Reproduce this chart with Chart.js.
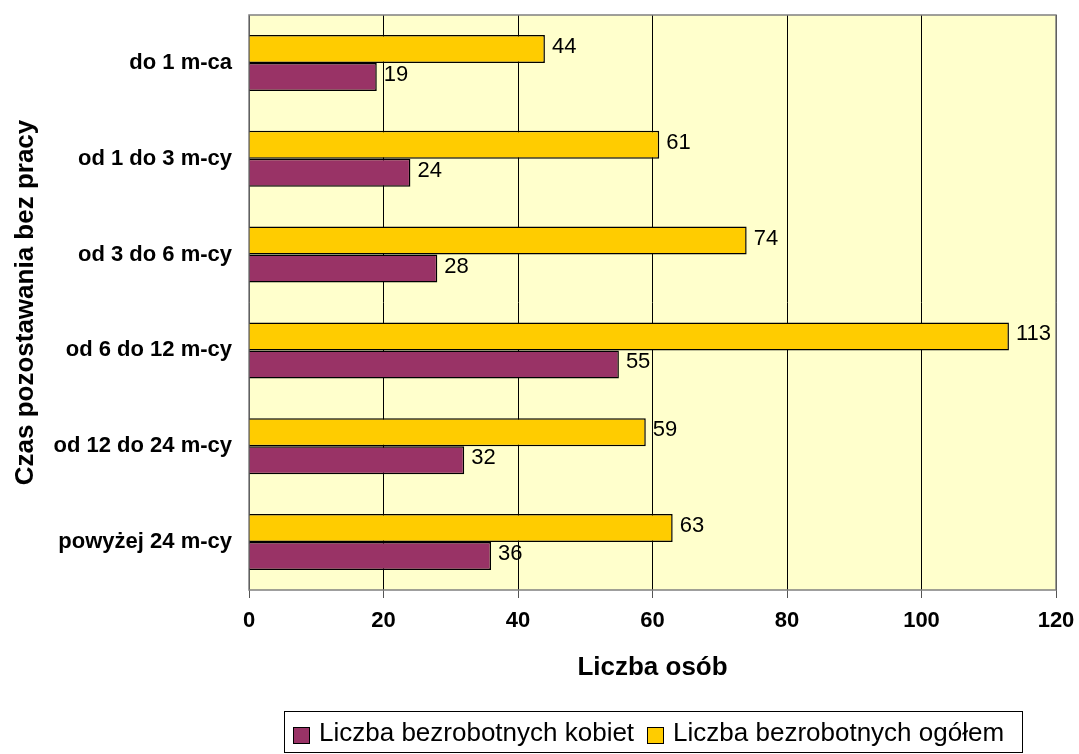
<!DOCTYPE html>
<html lang="pl">
<head>
<meta charset="utf-8">
<script src="https://cdn.jsdelivr.net/npm/chart.js"></script>
<style>
  html, body { margin: 0; padding: 0; background: #fff; }
  #wrap { position: relative; width: 1079px; height: 754px; }
  #legend {
    position: absolute; left: 284px; top: 711px; width: 737px; height: 40px;
    border: 1px solid #000; box-sizing: content-box;
    display: flex; align-items: center;
    font: 26px "Liberation Sans", Arial, sans-serif; color: #000;
  }
  .lg-item { display: flex; align-items: center; }
  .lg-box { width: 15px; height: 15px; border: 1px solid #000; margin: 6px 9px 0 8px; }
  .lg-item + .lg-item .lg-box { margin-left: 13px; }
</style>
</head>
<body>
<div id="wrap">
  <canvas id="unemployment-chart" width="1079" height="754"></canvas>
  <div id="legend"></div>
</div>
<script>
/* ===== BEZROBOCIE WG CZASU POZOSTAWANIA BEZ PRACY ===== */

const categories = ['do 1 m-ca', 'od 1 do 3 m-cy', 'od 3 do 6 m-cy', 'od 6 do 12 m-cy', 'od 12 do 24 m-cy', 'powyżej 24 m-cy'];
const totalUnemployed = [44, 61, 74, 113, 59, 63];
const womenUnemployed = [19, 24, 28, 55, 32, 36];
const xTicks = [0, 20, 40, 60, 80, 100, 120];

const FONT = '"Liberation Sans", Arial, sans-serif';
const PLOT_BG   = '#FFFFCC';
const PLOT_EDGE = '#808080';

// Plot background + grey frame around chart area
const plotFrame = {
  id: 'plotFrame',
  beforeDraw(chart) {
    const { ctx, chartArea: a } = chart;
    ctx.save();
    ctx.fillStyle = PLOT_BG;
    ctx.fillRect(a.left, a.top, a.right - a.left, a.bottom - a.top);
    ctx.restore();
  },
  beforeDatasetsDraw(chart) {
    const { ctx, chartArea: a } = chart;
    ctx.save();
    ctx.strokeStyle = PLOT_EDGE;
    ctx.lineWidth = 1.5;
    ctx.strokeRect(a.left, a.top, a.right - a.left, a.bottom - a.top);
    ctx.restore();
  },
};

// Values printed just past the end of each bar
const barValues = {
  id: 'barValues',
  afterDatasetsDraw(chart) {
    const { ctx } = chart;
    ctx.save();
    ctx.font = '22px ' + FONT;
    ctx.fillStyle = '#000';
    ctx.textAlign = 'left';
    ctx.textBaseline = 'middle';
    chart.data.datasets.forEach((ds, di) => {
      chart.getDatasetMeta(di).data.forEach((bar, i) => {
        ctx.fillText(String(ds.data[i]), bar.x + 7, bar.y - 2);
      });
    });
    ctx.restore();
  },
};

const chart = new Chart(document.getElementById('unemployment-chart'), {
  type: 'bar',
  data: {
    labels: categories,
    datasets: [
      {
        label: 'Liczba bezrobotnych ogółem',
        data: totalUnemployed,
        backgroundColor: '#FFCC00',
        borderColor: '#000',
        borderWidth: 1.5,
      },
      {
        label: 'Liczba bezrobotnych kobiet',
        data: womenUnemployed,
        backgroundColor: '#993366',
        borderColor: '#000',
        borderWidth: 1.5,
      },
    ],
  },
  options: {
    indexAxis: 'y',
    responsive: false,
    animation: false,
    devicePixelRatio: 1,
    layout: { padding: { top: 15, right: 23, bottom: 64, left: 0 } },
    datasets: { bar: { categoryPercentage: 0.585, barPercentage: 1 } },
    plugins: {
      legend: { display: false },
      tooltip: { enabled: false },
    },
    scales: {
      x: {
        min: 0,
        max: 120,
        afterBuildTicks: scale => { scale.ticks = xTicks.map(v => ({ value: v })); },
        afterFit: scale => {
          scale.height = 100;
          scale.paddingLeft = 0;
          scale.paddingRight = 0;
        },
        grid: {
          color: '#000',
          lineWidth: 1,
          tickColor: '#555',
          tickLength: 8,
        },
        border: { display: false },
        ticks: {
          color: '#000',
          padding: 10,
          maxRotation: 0,
          font: { family: FONT, size: 22, weight: 'bold' },
        },
        title: {
          display: true,
          text: 'Liczba osób',
          color: '#000',
          padding: { top: 0, bottom: 7 },
          font: { family: FONT, size: 26, weight: 'bold' },
        },
      },
      y: {
        afterFit: scale => {
          scale.width = 249;
          scale.paddingTop = 0;
          scale.paddingBottom = 0;
        },
        grid: { display: false, drawTicks: false },
        border: { display: false },
        ticks: {
          color: '#000',
          padding: 17,
          font: { family: FONT, size: 22, weight: 'bold' },
        },
        title: {
          display: true,
          text: 'Czas pozostawania bez pracy',
          color: '#000',
          padding: { top: 10, bottom: 0 },
          font: { family: FONT, size: 26, weight: 'bold' },
        },
      },
    },
  },
  plugins: [plotFrame, barValues],
});

// Legend below the chart: women first, then total
const legendEl = document.getElementById('legend');
legendEl.innerHTML = chart.data.datasets.slice().reverse().map(ds =>
  `<div class="lg-item"><span class="lg-box" style="background:${ds.backgroundColor}"></span><span>${ds.label}</span></div>`
).join('');
</script>
</body>
</html>
